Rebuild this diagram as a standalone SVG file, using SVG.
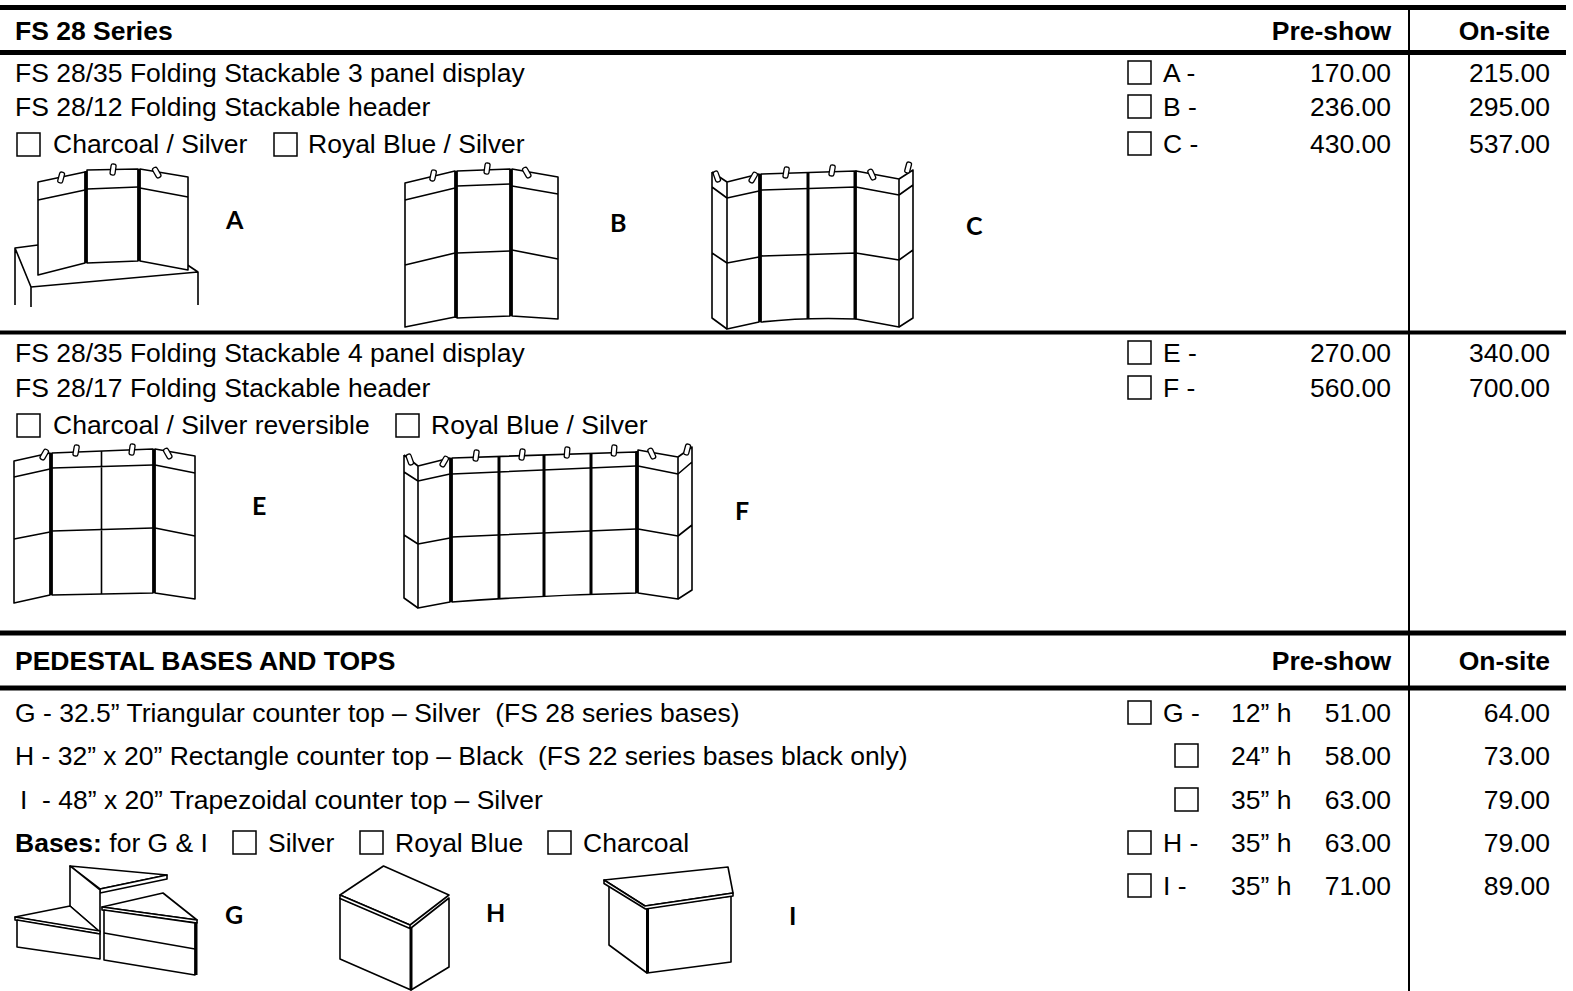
<svg xmlns="http://www.w3.org/2000/svg" xmlns:xlink="http://www.w3.org/1999/xlink" width="1573" height="991" viewBox="0 0 1573 991">
<style>
.t{font-family:"Liberation Sans",Arial,sans-serif;font-size:26.5px;fill:#000}
.b{font-weight:bold}
.r{text-anchor:end}
.cb{fill:#fff;stroke:#000;stroke-width:1.5}
.rule{stroke:#000;stroke-width:5}
.vr{stroke:#000;stroke-width:2}
.d{fill:#fff;stroke:#000;stroke-width:1.6;stroke-linejoin:round}
.l{fill:none;stroke:#000;stroke-width:1.6;stroke-linejoin:round}
.dv{fill:none;stroke:#000;stroke-width:3}
.lbl{font-family:Lato,"Liberation Sans",sans-serif;font-weight:bold;font-size:25px;fill:#000}
</style>
<defs>
<g id="clip"><rect x="-2.5" y="-6" width="5" height="11" rx="2" fill="#fff" stroke="#000" stroke-width="1.3"/></g>
<rect id="box" width="23" height="23" class="cb"/>
</defs>
<rect width="1573" height="991" fill="#fff"/>

<g id="rules">
<line class="rule" x1="0" y1="7.5" x2="1566" y2="7.5"/>
<line class="rule" x1="0" y1="52.5" x2="1566" y2="52.5"/>
<line class="rule" x1="0" y1="332.5" x2="1566" y2="332.5" style="stroke-width:4"/>
<line class="rule" x1="0" y1="633" x2="1566" y2="633"/>
<line class="rule" x1="0" y1="688" x2="1566" y2="688"/>
<line class="vr" x1="1409" y1="7" x2="1409" y2="991"/>
</g>

<g id="header1">
<text class="t b" x="15" y="40">FS 28 Series</text>
<text class="t b r" x="1391" y="40">Pre-show</text>
<text class="t b r" x="1550" y="40">On-site</text>
</g>

<g id="section1-text">
<text class="t" x="15" y="82">FS 28/35 Folding Stackable 3 panel display</text>
<text class="t" x="15" y="116">FS 28/12 Folding Stackable header</text>
<use href="#box" x="17" y="133"/>
<text class="t" x="53" y="153">Charcoal / Silver</text>
<use href="#box" x="274" y="133"/>
<text class="t" x="308" y="153">Royal Blue / Silver</text>
</g>

<g id="section1-prices">
<use href="#box" x="1128" y="61"/><text class="t" x="1163" y="82">A -</text>
<text class="t r" x="1391" y="82">170.00</text><text class="t r" x="1550" y="82">215.00</text>
<use href="#box" x="1128" y="95"/><text class="t" x="1163" y="116">B -</text>
<text class="t r" x="1391" y="116">236.00</text><text class="t r" x="1550" y="116">295.00</text>
<use href="#box" x="1128" y="132"/><text class="t" x="1163" y="153">C -</text>
<text class="t r" x="1391" y="153">430.00</text><text class="t r" x="1550" y="153">537.00</text>
</g>

<g id="drawing-A">
<path class="l" d="M15,305 L15,248 L38,245 M15,248 L31,287 L31,307 M31,287 L198,272 L198,305 M186,264 L198,272"/>
<path class="d" d="M38,182 L85,172 L85,263 L38,275 Z"/>
<path class="d" d="M87,170 L138,169 L138,261 L87,263 Z"/>
<path class="d" d="M140,169 L188,177 L188,270 L140,261 Z"/>
<path class="l" d="M38,200 L85,190 M87,189 L138,187 M140,188 L188,197"/>
<path class="dv" d="M86,171 L86,263 M139,169 L139,261"/>
<use href="#clip" transform="translate(61,178) rotate(15)"/>
<use href="#clip" transform="translate(113,170) rotate(8)"/>
<use href="#clip" transform="translate(157,173) rotate(-30)"/>
<text class="lbl" x="226" y="229">A</text>
</g>

<g id="drawing-B">
<path class="d" d="M405,183 L455,171 L455,317 L405,327 Z"/>
<path class="d" d="M457,171 L510,169 L510,316 L457,318 Z"/>
<path class="d" d="M512,169 L558,177 L558,319 L512,316 Z"/>
<path class="l" d="M405,200 L455,188 M405,265 L455,253 M457,186 L510,184 M457,253 L510,251 M512,186 L558,194 M512,250 L558,259"/>
<path class="dv" d="M456,171 L456,318 M511,169 L511,316"/>
<use href="#clip" transform="translate(433,176) rotate(12)"/>
<use href="#clip" transform="translate(487,169) rotate(8)"/>
<use href="#clip" transform="translate(527,173) rotate(-30)"/>
<text class="lbl" x="610" y="232">B</text>
</g>

<g id="drawing-C">
<path class="l" d="M712,172 L712,318 L727,329 M712,172 L727,182 M712,187 L727,198 M712,253 L727,263"/>
<path class="d" d="M727,182 L759,174 L759,322 L727,329 Z"/>
<path class="d" d="M761,174 L856,171 L856,319 Q807,317 761,322 Z"/>
<path class="d" d="M856,171 L899,179 L899,327 L856,319 Z"/>
<path class="l" d="M899,179 L913,170 L913,318 L899,327 M899,195 L913,185 M899,260 L913,250"/>
<path class="l" d="M727,198 L759,191 M727,263 L759,257 M761,190 L856,187 M761,256 L856,253 M856,187 L899,195 M856,253 L899,260"/>
<path class="dv" d="M760,174 L760,322 M808,172 L808,319 M855,171 L855,319"/>
<use href="#clip" transform="translate(717,177) rotate(-20)"/>
<use href="#clip" transform="translate(753,178) rotate(30)"/>
<use href="#clip" transform="translate(786,173) rotate(10)"/>
<use href="#clip" transform="translate(832,171) rotate(10)"/>
<use href="#clip" transform="translate(872,175) rotate(-25)"/>
<use href="#clip" transform="translate(908,168) rotate(15)"/>
<text class="lbl" x="966" y="235">C</text>
</g>

<g id="section2-text">
<text class="t" x="15" y="362">FS 28/35 Folding Stackable 4 panel display</text>
<text class="t" x="15" y="397">FS 28/17 Folding Stackable header</text>
<use href="#box" x="17" y="414"/>
<text class="t" x="53" y="434">Charcoal / Silver reversible</text>
<use href="#box" x="396" y="414"/>
<text class="t" x="431" y="434">Royal Blue / Silver</text>
</g>

<g id="section2-prices">
<use href="#box" x="1128" y="341"/><text class="t" x="1163" y="362">E -</text>
<text class="t r" x="1391" y="362">270.00</text><text class="t r" x="1550" y="362">340.00</text>
<use href="#box" x="1128" y="376"/><text class="t" x="1163" y="397">F -</text>
<text class="t r" x="1391" y="397">560.00</text><text class="t r" x="1550" y="397">700.00</text>
</g>

<g id="drawing-E">
<path class="d" d="M14,461 L50,453 L50,595 L14,603 Z"/>
<path class="d" d="M52,453 L153,449 L153,593 L52,595 Z"/>
<path class="d" d="M155,449 L195,456 L195,599 L155,593 Z"/>
<path class="l" d="M14,477 L50,469 M14,539 L50,532 M52,468 L153,465 M52,531 L153,528 M101.5,451 L101.5,594 M155,465 L195,473 M155,528 L195,536"/>
<path class="dv" d="M51,453 L51,595 M154,449 L154,593"/>
<use href="#clip" transform="translate(44,455) rotate(30)"/>
<use href="#clip" transform="translate(76,451) rotate(10)"/>
<use href="#clip" transform="translate(132,450) rotate(8)"/>
<use href="#clip" transform="translate(168,454) rotate(-30)"/>
<text class="lbl" x="252" y="515">E</text>
</g>

<g id="drawing-F">
<path class="l" d="M404,455 L404,598 L418,608 M404,455 L418,466 M404,472 L418,481 M404,535 L418,544"/>
<path class="d" d="M418,466 L450,458 L450,602 L418,608 Z"/>
<path class="d" d="M452,458 L636,452 L636,593 Q545,595 452,602 Z"/>
<path class="d" d="M638,450 L678,457 L678,599 L638,593 Z"/>
<path class="l" d="M678,457 L692,447 L692,590 L678,599 M678,474 L692,462 M678,536 L692,525"/>
<path class="l" d="M418,481 L450,474 M418,544 L450,538 M452,474 L636,466 M452,537 L636,529 M638,466 L678,474 M638,529 L678,536"/>
<path class="dv" d="M451,458 L451,602 M499,456 L499,599 M544,455 L544,597 M591,453 L591,595 M637,451 L637,593"/>
<use href="#clip" transform="translate(410,460) rotate(-20)"/>
<use href="#clip" transform="translate(444,462) rotate(30)"/>
<use href="#clip" transform="translate(476,456) rotate(8)"/>
<use href="#clip" transform="translate(522,455) rotate(8)"/>
<use href="#clip" transform="translate(567,453) rotate(5)"/>
<use href="#clip" transform="translate(614,451) rotate(5)"/>
<use href="#clip" transform="translate(652,454) rotate(-25)"/>
<use href="#clip" transform="translate(687,450) rotate(15)"/>
<text class="lbl" x="735" y="520">F</text>
</g>

<g id="header2">
<text class="t b" x="15" y="670">PEDESTAL BASES AND TOPS</text>
<text class="t b r" x="1391" y="670">Pre-show</text>
<text class="t b r" x="1550" y="670">On-site</text>
</g>

<g id="section3-text">
<text class="t" x="15" y="722" xml:space="preserve">G - 32.5” Triangular counter top – Silver  (FS 28 series bases)</text>
<text class="t" x="15" y="765" xml:space="preserve">H - 32” x 20” Rectangle counter top – Black  (FS 22 series bases black only)</text>
<text class="t" x="20" y="809" xml:space="preserve">I  - 48” x 20” Trapezoidal counter top – Silver</text>
<text class="t" x="15" y="852"><tspan class="b">Bases:</tspan> for G &amp; I</text>
<use href="#box" x="233" y="831"/><text class="t" x="268" y="852">Silver</text>
<use href="#box" x="360" y="831"/><text class="t" x="395" y="852">Royal Blue</text>
<use href="#box" x="548" y="831"/><text class="t" x="583" y="852">Charcoal</text>
</g>

<g id="section3-prices">
<use href="#box" x="1128" y="701"/><text class="t" x="1163" y="722">G -</text>
<text class="t" x="1231" y="722">12” h</text>
<text class="t r" x="1391" y="722">51.00</text><text class="t r" x="1550" y="722">64.00</text>
<use href="#box" x="1175" y="744"/>
<text class="t" x="1231" y="765">24” h</text>
<text class="t r" x="1391" y="765">58.00</text><text class="t r" x="1550" y="765">73.00</text>
<use href="#box" x="1175" y="788"/>
<text class="t" x="1231" y="809">35” h</text>
<text class="t r" x="1391" y="809">63.00</text><text class="t r" x="1550" y="809">79.00</text>
<use href="#box" x="1128" y="831"/><text class="t" x="1163" y="852">H -</text>
<text class="t" x="1231" y="852">35” h</text>
<text class="t r" x="1391" y="852">63.00</text><text class="t r" x="1550" y="852">79.00</text>
<use href="#box" x="1128" y="874"/><text class="t" x="1163" y="895">I -</text>
<text class="t" x="1231" y="895">35” h</text>
<text class="t r" x="1391" y="895">71.00</text><text class="t r" x="1550" y="895">89.00</text>
</g>

<g id="drawing-G">
<path class="d" d="M70,866 L167,875 L100,889 Z"/>
<path class="d" d="M100,889 L167,875 L167,879 L100,893 Z"/>
<path class="d" d="M70,866 L100,890 L100,932 L70,906 Z"/>
<path class="d" d="M15,917 L70,906 L100,932 Z"/>
<path class="d" d="M15,917 L100,931 L100,934 L15,920 Z"/>
<path class="d" d="M17,920 L100,934 L100,959 L17,947 Z"/>
<path class="d" d="M102,907 L163,893 L197,920 Z"/>
<path class="d" d="M102,907 L197,920 L197,923 L102,910 Z"/>
<path class="d" d="M104,910 L195,923 L195,975 L104,960 Z"/>
<path class="l" d="M104,933 L195,949"/>
<path class="dv" d="M196,922 L196,975"/>
<text class="lbl" x="225" y="924">G</text>
</g>

<g id="drawing-H">
<path class="d" d="M340,898 L411,928 L411,990 L340,959 Z"/>
<path class="d" d="M411,928 L449,898 L449,967 L411,990 Z"/>
<path class="d" d="M340,895 L383.5,866 L449,895 L410,925 Z"/>
<path class="d" d="M340,895 L410,925 L410,928.5 L340,898.5 Z"/>
<path class="dv" d="M411,928 L411,990"/>
<text class="lbl" x="486" y="922">H</text>
</g>

<g id="drawing-I">
<path class="d" d="M609,884 L647,908 L647,973 L609,945 Z"/>
<path class="d" d="M647,908 L731,896 L731,962 L647,973 Z"/>
<path class="d" d="M604,880 L728,867 L733,893 L645,906 Z"/>
<path class="d" d="M604,880 L645,906 L733,893 L733,896 L645.5,909 L604,883.5 Z"/>
<path class="dv" d="M647.5,909 L647.5,973"/>
<text class="lbl" x="789" y="925">I</text>
</g>
</svg>
